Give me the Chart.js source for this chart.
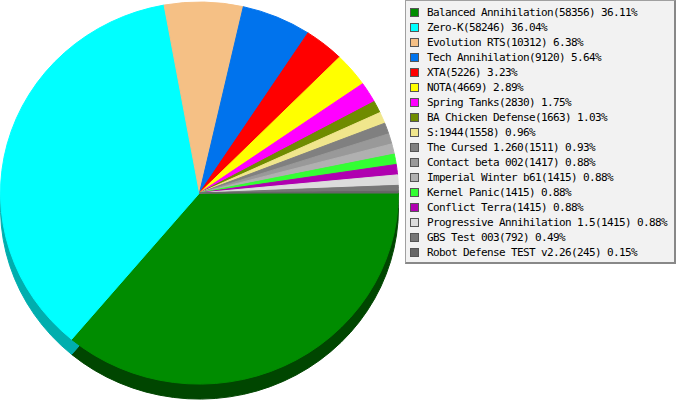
<!DOCTYPE html>
<html>
<head>
<meta charset="utf-8">
<script src="https://cdn.jsdelivr.net/npm/chart.js@4"></script>
<style>
  html, body { margin: 0; padding: 0; background: #fff; }
  #wrap { position: relative; width: 677px; height: 400px; }
  #pie { position: absolute; left: 0; top: 0; }
  #legend {
    position: absolute; left: 405px; top: 0; width: 268px; height: 261px;
    background: #f2f2f2;
    border-left: 1px solid #a0a0a0; border-top: 1px solid #a0a0a0;
    border-right: 2px solid #888; border-bottom: 2px solid #888;
    font-family: "DejaVu Sans Mono", monospace; font-size: 11px; letter-spacing: -0.62px; color: #000;
  }
  .item { position: absolute; left: 4px; height: 15px; line-height: 15px; white-space: nowrap; }
  .sw { position: absolute; left: 0; top: 3px; width: 7px; height: 7px; border: 1px solid #555; }
  .txt { position: absolute; left: 17px; top: 0; }
</style>
</head>
<body>
<div id="wrap">
  <canvas id="pie" width="677" height="400"></canvas>
  <div id="legend"></div>
</div>
<script>
var labels = ["Balanced Annihilation", "Zero-K", "Evolution RTS", "Tech Annihilation", "XTA", "NOTA",
  "Spring Tanks", "BA Chicken Defense", "S:1944", "The Cursed 1.260", "Contact beta 002",
  "Imperial Winter b61", "Kernel Panic", "Conflict Terra", "Progressive Annihilation 1.5",
  "GBS Test 003", "Robot Defense TEST v2.26"];
var players = [58356, 58246, 10312, 9120, 5226, 4669, 2830, 1663, 1558, 1511, 1417, 1415, 1415, 1415, 1415, 792, 245];

var colors = ["#008c00", "#00ffff", "#f5c085", "#0073ed", "#ff0000", "#ffff00", "#ff00ff", "#6f8c00",
  "#f0e68c", "#808080", "#999999", "#b0b0b0", "#33ff33", "#b000b0", "#dcdcdc", "#777777", "#666666"];

function darken(hex, f) {
  var n = parseInt(hex.slice(1), 16);
  var r = Math.round(((n >> 16) & 255) * f);
  var g = Math.round(((n >> 8) & 255) * f);
  var b = Math.round((n & 255) * f);
  return "rgb(" + r + "," + g + "," + b + ")";
}
var shadowColors = colors.map(function(c) { return darken(c, 0.5); });
shadowColors[1] = "#00aeae";

var total = players.reduce(function(a, b) { return a + b; }, 0);

// squash the pie a little and put a darker copy under it
var depth = 15;
var squash = 0.96;
var pie3d = {
  id: "pie3d",
  beforeDatasetsDraw: function(chart) {
    var ctx = chart.ctx;
    var meta = chart.getDatasetMeta(0);
    if (!meta.data.length) return;
    var cx = meta.data[0].x, cy = meta.data[0].y;
    var r = meta.data[0].outerRadius;
    var top = cy - r + 1;
    var newCy = top + r * squash;
    ctx.save();
    ctx.translate(0, depth);
    ctx.translate(cx, newCy);
    ctx.scale(1, squash);
    ctx.translate(-cx, -cy);
    meta.data.forEach(function(arc, i) {
      var keep = arc.options;
      arc.options = Object.assign({}, keep, { backgroundColor: shadowColors[i], borderColor: shadowColors[i] });
      arc.draw(ctx);
      arc.options = keep;
    });
    ctx.restore();

    ctx.save();
    ctx.translate(cx, newCy);
    ctx.scale(1, squash);
    ctx.translate(-cx, -cy);
  },
  afterDatasetsDraw: function(chart) {
    chart.ctx.restore();
  }
};

new Chart(document.getElementById("pie"), {
  type: "pie",
  data: {
    labels: labels,
    datasets: [{
      data: players,
      backgroundColor: colors,
      borderColor: colors,
      borderWidth: 1,
      hoverOffset: 0
    }]
  },
  options: {
    responsive: false,
    animation: false,
    rotation: 90,
    layout: { padding: { left: 0, top: 0, right: 278, bottom: 0 } },
    plugins: {
      legend: { display: false },
      tooltip: { enabled: false }
    }
  },
  plugins: [pie3d]
});

var legend = document.getElementById("legend");
labels.forEach(function(name, i) {
  var item = document.createElement("div");
  item.className = "item";
  item.style.top = (4 + i * 15) + "px";
  var sw = document.createElement("span");
  sw.className = "sw";
  sw.style.background = colors[i];
  var txt = document.createElement("span");
  txt.className = "txt";
  txt.textContent = name + "(" + players[i] + ") " + (players[i] / total * 100).toFixed(2) + "%";
  item.appendChild(sw);
  item.appendChild(txt);
  legend.appendChild(item);
});
</script>
</body>
</html>
